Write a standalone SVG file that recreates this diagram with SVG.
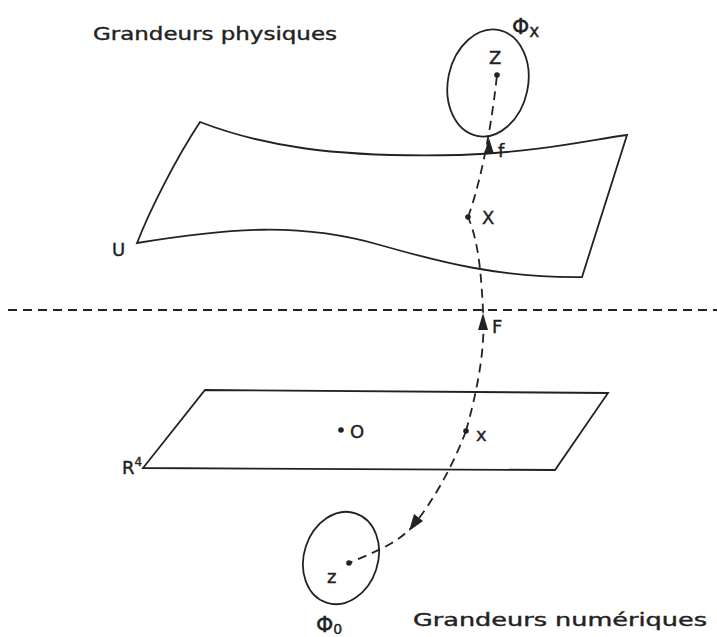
<svg xmlns="http://www.w3.org/2000/svg" width="717" height="637" viewBox="0 0 717 637">
<style>
.ln{fill:none;stroke:#222;stroke-width:1.8}
.ds{fill:none;stroke:#222;stroke-width:1.8;stroke-dasharray:9,6}
.ar{fill:#222}
.dot{fill:#222}
text{font-family:"DejaVu Sans","Liberation Sans",sans-serif;fill:#222;stroke:#222;stroke-width:0.4}
.lb{font-size:18px}
.tt{font-size:18px}
</style>
<rect width="717" height="637" fill="#fff"/>
<g id="titles">
<text class="tt" x="93" y="40" textLength="244" lengthAdjust="spacingAndGlyphs">Grandeurs physiques</text>
<text class="tt" x="413" y="626" textLength="294" lengthAdjust="spacingAndGlyphs">Grandeurs numériques</text>
</g>
<g id="U">
<path class="ln" d="M200,122 C260,145 330,158 460,155 C540,152 590,140 627,135 L582,277 C500,278 440,262 380,245 C300,222 230,228 137,243 C150,210 175,160 200,122 Z"/>
<text class="lb" x="112" y="256">U</text>
</g>
<g id="separator">
<line class="ds" x1="8" y1="310" x2="717" y2="310" stroke-dasharray="16,9"/>
</g>
<g id="R4">
<path class="ln" d="M205,390 L608,393 L555,470 L143,468 Z"/>
<text class="lb" x="122" y="474">R<tspan font-size="12" dy="-8">4</tspan></text>
</g>
<g id="PhiX">
<ellipse class="ln" cx="488" cy="83" rx="40" ry="54" transform="rotate(12 488 83)"/>
<text x="512" y="34" font-size="22">Φ<tspan font-size="17" dy="3">x</tspan></text>
</g>
<g id="Phi0">
<ellipse class="ln" cx="341" cy="558" rx="37" ry="47" transform="rotate(18 341 558)"/>
<text x="316" y="632" font-size="22">Φ<tspan font-size="14" dy="2">0</tspan></text>
</g>
<g id="connectors">
<path class="ds" d="M466,431 C476,395 486,350 483,310 C481,270 478,240 468,217"/>
<path class="ds" d="M468,217 C478,190 490,140 497,75"/>
<path class="ds" d="M466,431 C452,468 432,503 412,527 C395,545 372,553 349,563"/>
<polygon class="ar" points="483,313 478,330 488,330"/>
<polygon class="ar" points="489,138 484,154 494,154"/>
<polygon class="ar" points="409,531 414,514 423,521"/>
</g>
<g id="points">
<circle class="dot" cx="497" cy="75" r="2.8"/>
<text class="lb" x="489" y="64">Z</text>
<text class="lb" x="498" y="157">f</text>
<circle class="dot" cx="468" cy="217" r="2.8"/>
<text class="lb" x="482" y="224">X</text>
<text class="lb" x="492" y="333">F</text>
<circle class="dot" cx="341" cy="430" r="2.8"/>
<text class="lb" x="350" y="438">O</text>
<circle class="dot" cx="466" cy="431" r="2.8"/>
<text class="lb" x="476" y="441">x</text>
<circle class="dot" cx="349" cy="563" r="2.8"/>
<text class="lb" x="327" y="583">z</text>
</g>
</svg>
